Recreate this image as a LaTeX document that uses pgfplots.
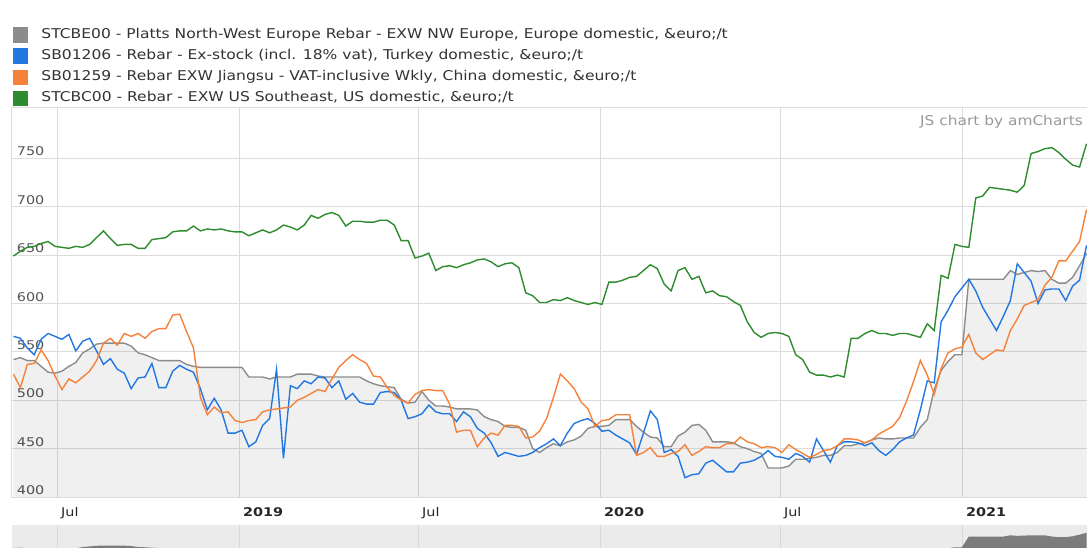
\documentclass[border=0pt]{standalone}
\usepackage{pgfplots}
\pgfplotsset{compat=1.18}
\usepackage{pgfplotstable}
\usepackage{fontspec}
\usepackage{graphicx}
\setmainfont{DejaVu Sans}
\definecolor{cgray}{HTML}{8C8C8C}
\definecolor{cblue}{HTML}{2377E0}
\definecolor{corange}{HTML}{F5823A}
\definecolor{cgreen}{HTML}{2E8B2E}
\definecolor{gridc}{HTML}{DCDCDC}
\definecolor{labc}{HTML}{555555}
\definecolor{legc}{HTML}{333333}
\definecolor{jsc}{HTML}{999999}
\definecolor{navbg}{HTML}{EBEBEB}
\definecolor{navgrid}{HTML}{D8D8D8}
\definecolor{navfill}{HTML}{7C7C7C}

\pgfplotstableread{
day gray blue orange green
136 542 566 527 649
143 544 564 513 654
150 541 554 537 658
157 541 547 538 659
164 535 563 552 662
171 529 569 541 664
178 528 566 525 659
185 530 563 511 658
192 535 568 522 657
199 539 551 518 659
206 549 561 524 658
213 553 564 530 661
220 558 551 541 668
227 559 537 559 675
234 559 543 564 667
241 559 532 557 660
248 559 528 569 661
255 556 512 566 661
262 549 523 569 657
269 547 524 564 657
276 544 538 571 666
283 541 513 574 667
290 541 513 574 668
297 541 530 588 674
304 541 536 589 675
311 537 532 571 675
318 535 529 554 680
325 534 512 503 675
332 534 490 485 677
339 534 502 493 676
346 534 490 487 677
353 534 466 488 675
360 534 466 479 674
367 534 469 477 674
374 524 452 479 670
381 524 457 480 673
388 524 474 488 676
395 522 481 490 673
402 524 532 491 676
409 524 440 492 681
416 524 515 493 679
423 527 512 500 676
430 527 520 503 681
437 527 517 507 691
444 525 524 511 688
451 524 523 509 692
458 524 513 522 694
465 524 520 534 691
472 524 501 541 680
479 524 507 547 685
486 524 498 542 685
493 520 496 538 684
500 517 496 525 684
507 515 508 524 686
514 514 509 513 686
521 513 508 505 681
528 501 500 500 665
535 497 481 497 665
542 498 483 506 647
549 509 486 510 649
556 500 495 511 652
563 494 488 510 634
570 494 486 510 638
577 493 486 496 639
584 491 478 467 637
591 491 488 469 640
598 491 483 469 642
605 490 471 452 645
612 483 466 461 646
619 480 456 466 643
626 478 442 464 638
633 473 446 474 641
640 472 444 474 642
647 472 442 473 637
654 469 443 461 611
661 450 446 462 608
668 446 451 468 601
675 451 455 481 601
682 455 460 503 604
689 453 453 527 603
696 457 466 520 606
703 459 476 512 603
710 463 479 498 601
717 471 481 491 599
724 473 476 473 601
731 473 468 479 599
738 474 469 480 622
745 480 464 485 622
752 480 460 485 624
759 480 456 485 627
766 473 444 443 628
773 467 466 446 634
780 462 489 451 640
787 461 480 442 636
794 452 446 442 620
801 452 449 445 613
808 463 442 447 634
815 467 420 454 637
822 474 423 443 625
829 475 424 447 628
836 469 435 452 611
843 457 438 451 613
850 457 432 451 608
857 457 426 455 607
864 456 426 455 602
871 452 435 462 598
878 450 436 457 581
885 447 438 455 570
892 445 442 451 565
899 430 448 452 569
906 430 442 451 570
913 430 441 446 569
920 432 439 454 566
927 439 445 449 547
934 439 442 445 542
941 440 436 441 529
948 441 460 444 526
955 443 448 448 526
962 443 436 449 524
969 446 453 453 526
976 453 457 460 524
983 453 457 460 564
990 455 456 459 564
997 456 453 456 569
1004 459 456 459 572
1011 461 448 465 569
1018 460 443 469 569
1025 460 449 473 567
1032 461 457 482 569
1039 461 461 499 569
1046 461 464 519 567
1053 472 490 541 565
1060 480 520 526 579
1067 511 518 506 572
1074 531 581 533 629
1081 540 593 549 626
1088 547 607 553 661
1095 547 616 555 659
1102 625 625 568 658
1109 625 613 549 709
1116 625 596 542 711
1123 625 584 547 720
1130 625 572 552 719
1137 625 587 551 718
1144 634 603 572 717
1151 630 641 584 715
1158 632 632 598 722
1165 634 623 601 755
1172 633 600 604 757
1179 634 614 619 760
1186 625 615 627 761
1193 621 615 644 756
1200 621 603 644 749
1207 627 618 654 743
1214 639 624 664 741
1221 652 660 697 765
}\data

\begin{document}
\begin{tikzpicture}[x=1pt,y=1pt]
\path[use as bounding box] (0,0) rectangle (1087,547);
% navigator
\begin{axis}[at={(12pt,-4pt)}, anchor=south west, scale only axis,
  width=1075pt, height=26pt,
  xmin=134.5, xmax=1221.5, ymin=520, ymax=709,
  axis background/.style={fill=navbg},
  axis line style={draw=none},
  xtick={181,365,546,730,912,1096}, xticklabels={}, ytick=\empty,
  xmajorgrids, major grid style={navgrid, line width=1pt},
  tick style={draw=none}]
\addplot[draw=none, fill=navfill] table[x=day,y=gray]{\data} \closedcycle;
\end{axis}
% main chart
\begin{axis}[at={(12pt,50pt)}, anchor=south west, scale only axis,
  width=1075pt, height=389pt,
  xmin=134.5, xmax=1221.5, ymin=400, ymax=802,
  xtick={181,365,546,730,912,1096},
  xticklabels={\scalebox{1.2}[1]{Jul},\scalebox{1.2}[1]{\textbf{2019}},\scalebox{1.2}[1]{Jul},\scalebox{1.2}[1]{\textbf{2020}},\scalebox{1.2}[1]{Jul},\scalebox{1.2}[1]{\textbf{2021}}},
  ytick={400,450,500,550,600,650,700,750},
  yticklabel={\scalebox{1.2}[1]{\pgfmathprintnumber{\tick}}},
  /pgf/number format/assume math mode=true,
  grid=major, major grid style={gridc, line width=1pt},
  tick style={draw=none}, major tick length=0pt,
  axis line style={gridc, line width=1pt},
  yticklabel style={anchor=south west, inner sep=0pt, xshift=4.7pt, yshift=2pt,
    font=\fontsize{12}{13}\selectfont, text=labc},
  xticklabel style={anchor=north west, inner sep=0pt, xshift=3pt, yshift=-10pt,
    font=\fontsize{12}{13}\selectfont, text=black!85},
  legend cell align=left,
  legend image code/.code={\fill[#1] (0pt,-7pt) rectangle (14pt,7pt);},
  legend style={at={(0,1)}, anchor=south west, xshift=1pt, yshift=2pt,
    draw=none, fill=none, inner sep=0pt, outer sep=0pt,
    row sep=5.67pt, column sep=13pt,
    nodes={inner sep=0pt, text height=10pt, text depth=3pt, text=legc},
    font=\fontsize{13.5}{16}\selectfont},
]
\addplot[draw=none, fill=black, fill opacity=0.06, forget plot] table[x=day,y=gray]{\data} \closedcycle;
\addplot[cgray, line width=1.4pt] table[x=day,y=gray]{\data};
\addlegendentry{\scalebox{1.15}[1]{STCBE00 - Platts North-West Europe Rebar - EXW NW Europe, Europe domestic, \&euro;/t}}
\addplot[cblue, line width=1.4pt] table[x=day,y=blue]{\data};
\addlegendentry{\scalebox{1.15}[1]{SB01206 - Rebar - Ex-stock (incl. 18\% vat), Turkey domestic, \&euro;/t}}
\addplot[corange, line width=1.4pt] table[x=day,y=orange]{\data};
\addlegendentry{\scalebox{1.15}[1]{SB01259 - Rebar EXW Jiangsu - VAT-inclusive Wkly, China domestic, \&euro;/t}}
\addplot[cgreen, line width=1.4pt] table[x=day,y=green]{\data};
\addlegendentry{\scalebox{1.15}[1]{STCBC00 - Rebar - EXW US Southeast, US domestic, \&euro;/t}}
\node[anchor=north east, inner sep=0pt, text=jsc, font=\fontsize{13.5}{16}\selectfont] at (rel axis cs:1,1) [xshift=-4pt, yshift=-7pt] {\scalebox{1.14}[1]{JS chart by amCharts}};
\end{axis}
\end{tikzpicture}
\end{document}
